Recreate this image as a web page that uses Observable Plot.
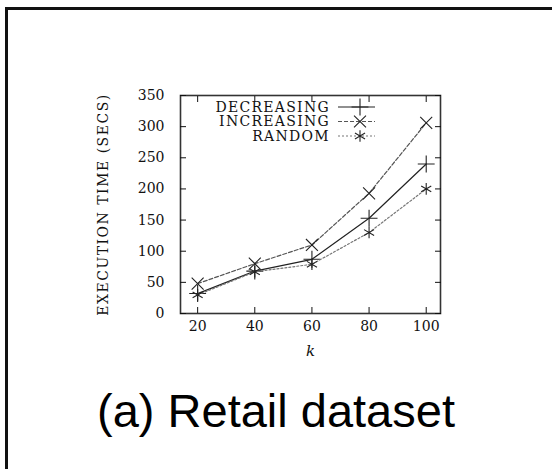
<!DOCTYPE html>
<html>
<head>
<meta charset="utf-8">
<script src="https://cdn.jsdelivr.net/npm/d3@7"></script>
<script src="https://cdn.jsdelivr.net/npm/@observablehq/plot@0.6"></script>
<style>
  html, body { margin: 0; padding: 0; background: #fff; width: 552px; height: 469px; overflow: hidden; }
  #border { position: absolute; left: 5px; top: 7px; width: 620px; height: 520px; border: 3px solid #111; box-sizing: border-box; }
  #chart { position: absolute; left: 0; top: 0; }
  #title { position: absolute; left: 0; width: 552px; top: 383px; text-align: center; font-family: "Liberation Sans", Arial, sans-serif; font-size: 47px; color: #000; white-space: nowrap; }
</style>
</head>
<body>
<div id="border"></div>
<div id="chart"></div>
<div id="title">(a) Retail dataset</div>
<script>
const kValues = [20, 40, 60, 80, 100];
const seriesNames = ["DECREASING", "INCREASING", "RANDOM"];
const decreasing = [32, 68, 87, 153, 240];
const increasing = [48, 80, 110, 193, 306];
const random = [30, 67, 79, 130, 200];
const xTicks = [20, 40, 60, 80, 100];
const yTicks = [0, 50, 100, 150, 200, 250, 300, 350];

const seriesValues = [decreasing, increasing, random];
const styles = {
  DECREASING: {stroke: "#222", dash: null, symbol: "plus"},
  INCREASING: {stroke: "#555", dash: "4,2", symbol: "times"},
  RANDOM: {stroke: "#777", dash: "2,2", symbol: "asterisk"}
};
const rows = [];
seriesNames.forEach((s, i) => kValues.forEach((k, j) => rows.push({series: s, k, t: seriesValues[i][j]})));

const font = "'DejaVu Serif', 'Liberation Serif', serif";
const marks = [];
seriesNames.forEach(s => {
  const data = rows.filter(r => r.series === s);
  marks.push(Plot.line(data, {x: "k", y: "t", stroke: styles[s].stroke, strokeWidth: 1.2, strokeDasharray: styles[s].dash}));
  marks.push(Plot.dot(data, {x: "k", y: "t", symbol: () => styles[s].symbol, stroke: "#222", strokeWidth: 1.1, r: 5.5}));
});

const chart = Plot.plot({
  width: 552,
  height: 370,
  marginTop: 95,
  marginLeft: 180,
  marginRight: 112,
  marginBottom: 57,
  style: {fontFamily: font, fontSize: "14px", color: "#111", background: "transparent"},
  x: {domain: [14, 105]},
  y: {domain: [0, 350]},
  marks: [
    Plot.frame({stroke: "#333", strokeWidth: 1.6}),
    Plot.axisX(xTicks, {anchor: "bottom", tickSize: -6, tickPadding: 14, label: "k", labelAnchor: "center", labelOffset: 42, labelArrow: "none", fontSize: 14}),
    Plot.axisX(xTicks, {anchor: "top", tickSize: -6, tickFormat: () => "", label: null}),
    Plot.axisY(yTicks, {anchor: "left", tickSize: -6, tickPadding: 22, label: "EXECUTION TIME (SECS)", labelAnchor: "center", labelOffset: 82, labelArrow: "none", fontSize: 14}),
    Plot.axisY(yTicks, {anchor: "right", tickSize: -6, tickFormat: () => "", label: null}),
    ...marks
  ]
});
document.getElementById("chart").appendChild(chart);

d3.select(chart).selectAll("text").filter(function() { return this.textContent === "k"; })
  .attr("font-style", "italic").attr("font-size", 15);
d3.select(chart).selectAll("text").filter(function() { return this.textContent === "EXECUTION TIME (SECS)"; })
  .attr("letter-spacing", "1.5px");

// Legend (inside plot, top-right)
const svg = d3.select(chart);
const lg = svg.append("g").attr("font-family", font).attr("font-size", 14).attr("letter-spacing", "1.3px");
const textRight = 330, lineX1 = 338, lineX2 = 375, markX = 360, y0 = 107, dy = 14.5;
seriesNames.forEach((s, i) => {
  const y = y0 + i * dy;
  lg.append("text").attr("x", textRight).attr("y", y).attr("dy", "0.35em").attr("text-anchor", "end").attr("fill", "#111").text(s);
  lg.append("line").attr("x1", lineX1).attr("x2", lineX2).attr("y1", y).attr("y2", y)
    .attr("stroke", styles[s].stroke).attr("stroke-width", 1.2).attr("stroke-dasharray", styles[s].dash);
  const sym = {plus: d3.symbolPlus, times: d3.symbolTimes, asterisk: d3.symbolAsterisk}[styles[s].symbol];
  lg.append("path").attr("d", d3.symbol(sym, Math.PI * 5.5 * 5.5)())
    .attr("transform", `translate(${markX},${y})`).attr("fill", "none").attr("stroke", "#222").attr("stroke-width", 1.1);
});
</script>
</body>
</html>
